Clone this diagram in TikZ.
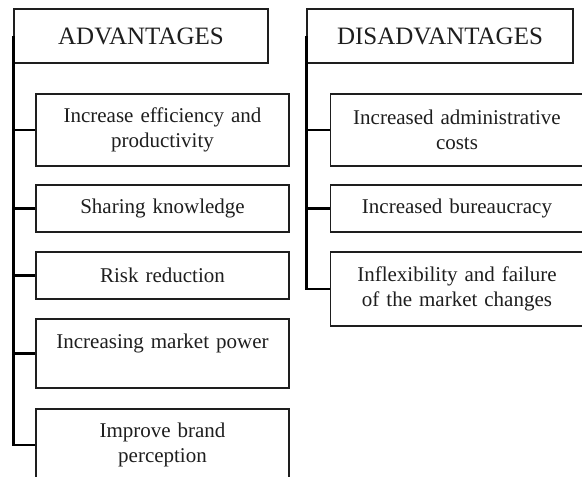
\documentclass[tikz,border=0pt]{standalone}
\usepackage{fontspec}
\setmainfont{Liberation Serif}
\usepackage{xcolor}
\usetikzlibrary{positioning}
\definecolor{inkgray}{HTML}{1E1E1E}

\tikzset{
  headbox/.style={draw=inkgray, line width=1.1pt, minimum height=54pt,
    inner sep=0pt, text=inkgray, font=\fontsize{25}{30}\selectfont},
  itembox/.style={draw=inkgray, line width=1.1pt, minimum width=253pt,
    text width=240pt, align=center, inner sep=0pt, text=inkgray,
    font=\fontsize{21}{25}\selectfont},
  trunk/.style={draw=black, line width=2.2pt}
}

\begin{document}
\begin{tikzpicture}[x=1pt, y=-1pt]
    \clip (0,0) rectangle (582,477);
    \fill[white] (0,0) rectangle (582,477);

    % headers
    \node[headbox, minimum width=254pt] (adv) at (141,36) {ADVANTAGES};
    \node[headbox, minimum width=266pt] (dis) at (440,36) {DISADVANTAGES};

    % advantages
    \node[itembox, minimum height=72pt] (a1) at (162.5,130) {Increase efficiency and\\productivity};
    \node[itembox, minimum height=47pt] (a2) at (162.5,208.5) {Sharing knowledge};
    \node[itembox, minimum height=47pt] (a3) at (162.5,275.5) {Risk reduction};
    \node[itembox, minimum height=69pt] (a4) at (162.5,353.5) {Increasing market power\\\mbox{}};
    \node[itembox, minimum height=72pt] (a5) at (162.5,445) {Improve brand\\perception};

    % disadvantages
    \node[itembox, minimum height=72pt] (d1) at (457,130) {Increased administrative\\costs};
    \node[itembox, minimum height=47pt] (d2) at (457,208.5) {Increased bureaucracy};
    \node[itembox, minimum height=74pt] (d3) at (457,289) {Inflexibility and failure\\of the market changes};

    % connectors
    \foreach \n in {a1,a2,a3,a4,a5}
      \draw[trunk] (adv.west) |- (\n.west);
    \foreach \n in {d1,d2,d3}
      \draw[trunk] (dis.west) |- (\n.west);
\end{tikzpicture}
\end{document}
